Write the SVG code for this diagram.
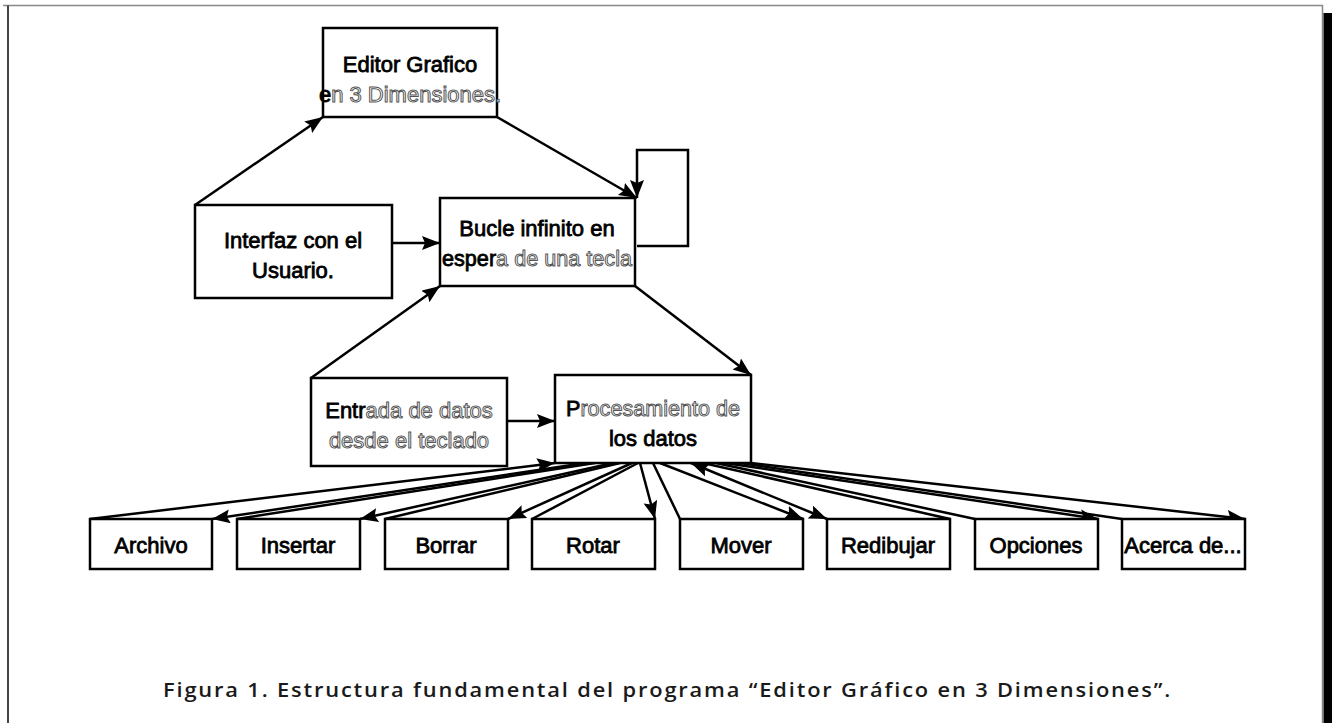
<svg xmlns="http://www.w3.org/2000/svg" width="1332" height="723" viewBox="0 0 1332 723">
<style>
.box{fill:#fff;stroke:#000;stroke-width:2.5}
.t{font-family:"Liberation Sans",Arial,sans-serif;font-size:22px;text-anchor:middle}
.b{fill:#000;stroke:#000;stroke-width:0.8}
.o{fill:#fff;stroke:#555;stroke-width:1}
.ln{fill:none;stroke:#000;stroke-width:2.5}
.a{marker-end:url(#ah)}
.s{marker-start:url(#ahs)}
.cap{font-family:"Open Sans","DejaVu Sans",sans-serif;font-size:19px;font-weight:600;fill:#1a1a1a;letter-spacing:1.6px}
</style>
<defs>
<marker id="ah" markerUnits="userSpaceOnUse" markerWidth="20" markerHeight="16" refX="18" refY="7" orient="auto">
<path d="M0,0 L18,7 L0,14 L3,7 z" fill="#000"/>
</marker>
<marker id="ahs" markerUnits="userSpaceOnUse" markerWidth="20" markerHeight="16" refX="18" refY="7" orient="auto-start-reverse">
<path d="M0,0 L18,7 L0,14 L3,7 z" fill="#000"/>
</marker>
</defs>
<rect width="1332" height="723" fill="#fff"/>
<g id="frame">
<path d="M3,5.5 H1322.5 V723" fill="none" stroke="#888" stroke-width="1.5"/>
<path d="M8,5.5 V723" fill="none" stroke="#444" stroke-width="2"/>
<rect x="1323.5" y="13" width="8.5" height="710" fill="#000"/>
</g>
<g id="connectors">
<path class="ln a" d="M195,205 L323,117"/>
<path class="ln a" d="M497,117 L637,198"/>
<path class="ln a" d="M637,246 H688 V150 H637 V198"/>
<path class="ln a" d="M392,243 L440,243"/>
<path class="ln a" d="M311,378 L440,286"/>
<path class="ln a" d="M635,286 L751,375"/>
<path class="ln a" d="M507,421 L555,421"/>
<path class="ln a" d="M90,519 L555,463"/>
<path class="ln a" d="M585,463 L212,519"/>
<path class="ln" d="M237,519 L595,463"/>
<path class="ln a" d="M613,463 L360,519"/>
<path class="ln" d="M385,519 L620,463"/>
<path class="ln a" d="M632,463 L508,519"/>
<path class="ln" d="M532,519 L638,463"/>
<path class="ln a" d="M640,463 L655,519"/>
<path class="ln" d="M680,519 L653,463"/>
<path class="ln a" d="M660,463 L803,519"/>
<path class="ln a s" d="M691,463 L827,519"/>
<path class="ln" d="M950,519 L703,463"/>
<path class="ln" d="M975,519 L716,463"/>
<path class="ln a" d="M725,463 L1098,519"/>
<path class="ln" d="M1122,519 L740,463"/>
<path class="ln a" d="M751,463 L1245,519"/>
</g>
<g id="editor">
<rect class="box" x="323" y="28" width="174" height="89"/>
<text class="t b" x="410" y="72">Editor Grafico</text>
<text class="t" x="410" y="102"><tspan class="b">e</tspan><tspan class="o">n 3 Dimensiones.</tspan></text>
</g>
<g id="interfaz">
<rect class="box" x="195" y="205" width="197" height="93"/>
<text class="t b" x="293" y="248">Interfaz con el</text>
<text class="t b" x="293" y="278">Usuario.</text>
</g>
<g id="bucle">
<rect class="box" x="440" y="198" width="195" height="88"/>
<text class="t b" x="537" y="236">Bucle infinito en</text>
<text class="t" x="537" y="266" textLength="190" lengthAdjust="spacingAndGlyphs"><tspan class="b">esper</tspan><tspan class="o">a de una tecla</tspan></text>
</g>
<g id="entrada">
<rect class="box" x="311" y="378" width="196" height="88"/>
<text class="t" x="409" y="418"><tspan class="b">Entr</tspan><tspan class="o">ada de datos</tspan></text>
<text class="t o" x="409" y="448">desde el teclado</text>
</g>
<g id="procesamiento">
<rect class="box" x="555" y="375" width="196" height="88"/>
<text class="t" x="653" y="416" textLength="174" lengthAdjust="spacingAndGlyphs"><tspan class="b">P</tspan><tspan class="o">rocesamiento de</tspan></text>
<text class="t b" x="653" y="446">los datos</text>
</g>
<g id="archivo"><rect class="box" x="90" y="519" width="122" height="50"/><text class="t b" x="151" y="553">Archivo</text></g>
<g id="insertar"><rect class="box" x="237" y="519" width="123" height="50"/><text class="t b" x="298" y="553">Insertar</text></g>
<g id="borrar"><rect class="box" x="385" y="519" width="123" height="50"/><text class="t b" x="446" y="553">Borrar</text></g>
<g id="rotar"><rect class="box" x="532" y="519" width="123" height="50"/><text class="t b" x="593" y="553">Rotar</text></g>
<g id="mover"><rect class="box" x="680" y="519" width="123" height="50"/><text class="t b" x="741" y="553">Mover</text></g>
<g id="redibujar"><rect class="box" x="827" y="519" width="123" height="50"/><text class="t b" x="888" y="553">Redibujar</text></g>
<g id="opciones"><rect class="box" x="975" y="519" width="123" height="50"/><text class="t b" x="1036" y="553">Opciones</text></g>
<g id="acerca"><rect class="box" x="1122" y="519" width="123" height="50"/><text class="t b" x="1183" y="553">Acerca de...</text></g>
<text class="cap" x="163" y="697" textLength="1009" lengthAdjust="spacingAndGlyphs">Figura 1. Estructura fundamental del programa “Editor Gráfico en 3 Dimensiones”.</text>
</svg>
